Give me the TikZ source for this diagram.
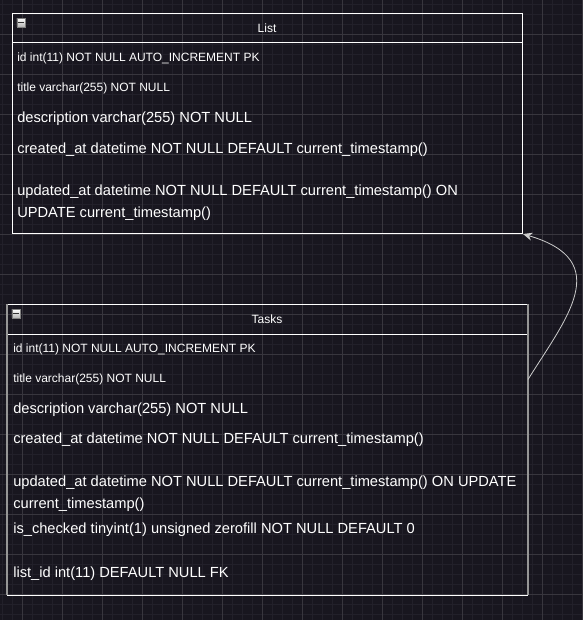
\documentclass[tikz,border=0pt]{standalone}
\usepackage{fontspec}
\setmainfont{Liberation Sans}
\usetikzlibrary{arrows.meta}

\definecolor{canvas}{RGB}{24,22,31}
\definecolor{gridminor}{RGB}{34,32,42}
\definecolor{gridmajor}{RGB}{56,54,62}
\definecolor{sideline}{RGB}{150,150,150}
\definecolor{linkline}{RGB}{205,205,205}

\begin{document}
\begin{tikzpicture}[x=0.75pt,y=-0.75pt,
    tablebox/.style={draw=white,line width=0.75pt,inner sep=0pt,anchor=north west},
    head/.style={text=white,inner sep=0pt,font=\fontsize{9}{11}\selectfont},
    small/.style={text=white,anchor=west,inner sep=0pt,font=\fontsize{9}{11}\selectfont},
    field/.style={text=white,anchor=west,inner sep=0pt,align=left,font=\fontsize{11}{16.5}\selectfont},
    toggle/.style={draw=gray,top color=white,bottom color=gray!60,minimum size=6.5pt,inner sep=0pt,anchor=north west},
    link/.style={-{Stealth[length=7pt,width=6pt]},draw=linkline,line width=0.6pt}]

  \useasboundingbox (0,0) rectangle (583,620);
  \fill[canvas] (0,0) rectangle (583,620);
  \foreach \x in {2,12,...,582} \draw[gridminor,line width=0.5pt] (\x,0) -- (\x,620);
  \foreach \y in {4,14,...,614} \draw[gridminor,line width=0.5pt] (0,\y) -- (583,\y);
  \foreach \x in {22,62,...,582} \draw[gridmajor,line width=0.6pt] (\x,0) -- (\x,620);
  \foreach \y in {34,74,...,594} \draw[gridmajor,line width=0.6pt] (0,\y) -- (583,\y);

  \node[tablebox,minimum width=382.5pt,minimum height=165pt] (list_box) at (12,13) {};
  \draw[white,line width=0.75pt] ([yshift=-22.5pt]list_box.north west) -- ([yshift=-22.5pt]list_box.north east);
  \node[toggle] (list_toggle) at (16.5,18) {};
  \draw[black!80,line width=1pt] ([xshift=1.2pt]list_toggle.west) -- ([xshift=-1.2pt]list_toggle.east);
  \node[head] (list_head) at (267,28) {List};

  \node[small] (list_id) at (17,58.5) {id int(11) NOT NULL AUTO\_INCREMENT PK};
  \node[small] (list_title) at (17,88.5) {title varchar(255) NOT NULL};
  \node[field] (list_desc) at (17,118.5) {description varchar(255) NOT NULL};
  \node[field] (list_created) at (17,149.5) {created\_at datetime NOT NULL DEFAULT current\_timestamp()};
  \node[field] (list_updated) at (17,202.5) {updated\_at datetime NOT NULL DEFAULT current\_timestamp() ON\\UPDATE current\_timestamp()};

  \node[tablebox,draw=none,minimum width=390pt,minimum height=217.5pt] (tasks_box) at (7,304) {};
  \draw[white,line width=0.75pt] (tasks_box.north west) -- (tasks_box.north east)
        (tasks_box.south west) -- (tasks_box.south east)
        ([yshift=-22.5pt]tasks_box.north west) -- ([yshift=-22.5pt]tasks_box.north east);
  \draw[sideline,line width=1.5pt] (tasks_box.north west) -- (tasks_box.south west)
        (tasks_box.north east) -- (tasks_box.south east);
  \node[toggle] (tasks_toggle) at (11.5,309) {};
  \draw[black!80,line width=1pt] ([xshift=1.2pt]tasks_toggle.west) -- ([xshift=-1.2pt]tasks_toggle.east);
  \node[head] (tasks_head) at (267,319) {Tasks};

  \node[small] (tasks_id) at (13,349.5) {id int(11) NOT NULL AUTO\_INCREMENT PK};
  \node[small] (tasks_title) at (13,379.5) {title varchar(255) NOT NULL};
  \node[field] (tasks_desc) at (13,409.5) {description varchar(255) NOT NULL};
  \node[field] (tasks_created) at (13,439.5) {created\_at datetime NOT NULL DEFAULT current\_timestamp()};
  \node[field] (tasks_updated) at (13,494) {updated\_at datetime NOT NULL DEFAULT current\_timestamp() ON UPDATE\\current\_timestamp()};
  \node[field] (tasks_checked) at (13,529.5) {is\_checked tinyint(1) unsigned zerofill NOT NULL DEFAULT 0};
  \node[field] (tasks_list) at (13,573.5) {list\_id int(11) DEFAULT NULL FK};

  \draw[link] (tasks_box.east |- tasks_title) .. controls +(38,-61) and +(92,27) .. (list_box.south east);

\end{tikzpicture}
\end{document}
